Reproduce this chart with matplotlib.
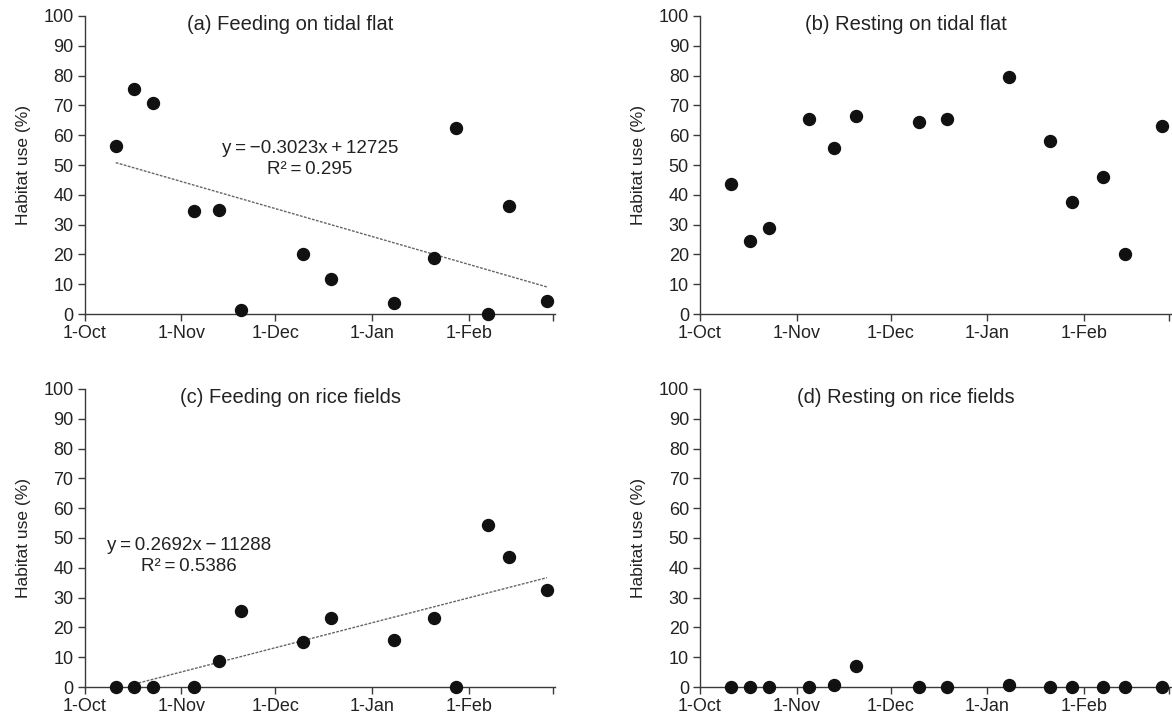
import numpy as np
import matplotlib
matplotlib.use("Agg")
import matplotlib.pyplot as plt
import matplotlib.dates as mdates

plt.rcParams['font.family'] = ['Liberation Sans', 'DejaVu Sans']

# survey dates (same for all four panels)
dates = np.array(['2014-10-11', '2014-10-17', '2014-10-23', '2014-11-05', '2014-11-13',
                  '2014-11-20', '2014-12-10', '2014-12-19', '2015-01-08', '2015-01-21',
                  '2015-01-28', '2015-02-07', '2015-02-14', '2015-02-26'], dtype='datetime64[D]')

feeding_tidal = [56.5, 75.4, 70.8, 34.6, 34.9, 1.3, 20.1, 11.6, 3.8, 18.8, 62.3, 0.0, 36.2, 4.4]
resting_tidal = [43.5, 24.6, 29.0, 65.4, 55.8, 66.4, 64.3, 65.4, 79.5, 58.2, 37.7, 45.9, 20.1, 63.0]
feeding_rice = [0.0, 0.0, 0.0, 0.0, 8.7, 25.4, 15.2, 23.1, 15.9, 23.1, 0.0, 54.3, 43.7, 32.7]
resting_rice = [0.0, 0.0, 0.0, 0.0, 0.8, 6.9, 0.0, 0.0, 0.8, 0.0, 0.0, 0.0, 0.0, 0.0]

titles = ['(a) Feeding on tidal flat', '(b) Resting on tidal flat',
          '(c) Feeding on rice fields', '(d) Resting on rice fields']
tick_dates = np.array(['2014-10-01', '2014-11-01', '2014-12-01', '2015-01-01', '2015-02-01',
                       '2015-02-28'], dtype='datetime64[D]')
tick_labels = ['1-Oct', '1-Nov', '1-Dec', '1-Jan', '1-Feb', '']
x_start = np.datetime64('2014-10-01')
x_end = np.datetime64('2015-02-28T14:00')

eq_text = {0: 'y\u2009=\u2009\u22120.3023x\u2009+\u200912725\nR\u00b2\u2009=\u20090.295',
           2: 'y\u2009=\u20090.2692x\u2009\u2212\u200911288\nR\u00b2\u2009=\u20090.5386'}
eq_pos = {0: (0.479, 52), 2: (0.222, 44)}
fit_start = {0: 0, 2: 1}

series = [feeding_tidal, resting_tidal, feeding_rice, resting_rice]

W, H = 1172, 719
fig = plt.figure(figsize=(W / 100, H / 100), dpi=100)
boxes = [(84.5, 16), (700, 16), (84.5, 389), (700, 389)]
axw, axh = 470.5, 298

ink = '#3a3a3a'
for i, (vals, title) in enumerate(zip(series, titles)):
    x0, y0 = boxes[i]
    ax = fig.add_axes([x0 / W, 1 - (y0 + axh) / H, axw / W, axh / H])
    ax.plot(dates, vals, 'o', color='#111111', markersize=8.6, clip_on=False, zorder=3)

    if i in eq_text:
        xn = mdates.date2num(dates)
        k = fit_start[i]
        p = np.polyfit(xn, vals, 1)
        xs = xn[k:][[0, -1]]
        ax.plot(mdates.num2date(xs), np.polyval(p, xs), color='#666666', lw=1.0,
                ls=(0, (2, 1)), zorder=2)
        ex, ey = eq_pos[i]
        ax.text(ex, ey, eq_text[i], transform=ax.get_yaxis_transform(), ha='center',
                va='center', fontsize=13.5, color='#222222', linespacing=1.3)

    ax.text(0.438, 97, title, transform=ax.get_yaxis_transform(), ha='center', va='center',
            fontsize=14.5, color='#222222')

    ax.set_xlim(x_start, x_end)
    ax.set_ylim(0, 100)
    ax.set_yticks(range(0, 101, 10))
    ax.set_xticks(tick_dates)
    ax.set_xticklabels(tick_labels)
    ax.set_ylabel('Habitat use (%)', fontsize=12.5, color='#222222', labelpad=9)
    for s in ['top', 'right']:
        ax.spines[s].set_visible(False)
    for s in ['left', 'bottom']:
        ax.spines[s].set_color(ink)
        ax.spines[s].set_linewidth(1.0)
    ax.tick_params(direction='out', length=5, width=1.0, color=ink, labelsize=13,
                   labelcolor='#222222', pad=3)

fig.savefig('out.png', dpi=100)
